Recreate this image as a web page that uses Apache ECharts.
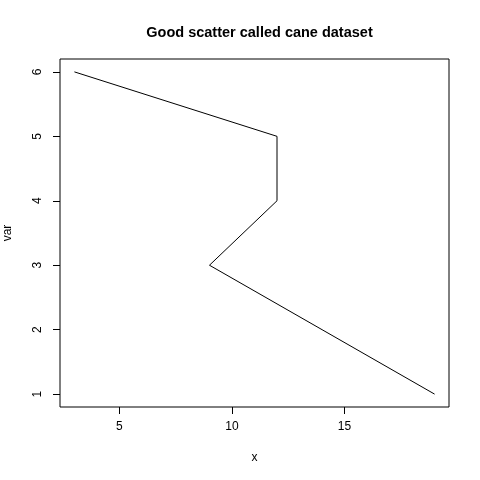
<!DOCTYPE html>
<html><head><meta charset="utf-8">
<script src="https://cdn.jsdelivr.net/npm/echarts@6/dist/echarts.min.js"></script>
<style>html,body{margin:0;padding:0;background:#fff}#c{width:480px;height:480px}</style>
</head><body><div id="c"></div>
<script>
const xValues = [19, 14, 9, 12, 12, 3];
const varValues = [1, 2, 3, 4, 5, 6];
const xTicks = [5, 10, 15];
const yTicks = [1, 2, 3, 4, 5, 6];
const titleText = 'Good scatter called cane dataset';

const font = 'Liberation Sans, Arial, Helvetica, sans-serif';
const chart = echarts.init(document.getElementById('c'), null, {renderer: 'canvas'});
chart.setOption({
  animation: false,
  backgroundColor: '#fff',
  title: {
    text: titleText, left: 254.5, textAlign: 'center', top: 20,
    textStyle: {fontFamily: font, fontWeight: 'bold', fontSize: 14.5, color: '#000'}
  },
  grid: {left: 60, right: 31, top: 59, bottom: 73, containLabel: false, outerBoundsMode: 'none', show: true, borderColor: '#000', borderWidth: 1, backgroundColor: 'transparent'},
  xAxis: {
    type: 'value', min: 2.36, max: 19.64,
    name: 'x', nameLocation: 'middle', nameGap: 45,
    nameTextStyle: {fontFamily: font, fontSize: 12, color: '#000'},
    axisLine: {show: false},
    splitLine: {show: false},
    axisTick: {show: true, inside: false, length: 7, customValues: xTicks, lineStyle: {color: '#000'}},
    axisLabel: {customValues: xTicks, margin: 14, fontFamily: font, fontSize: 12, color: '#000'}
  },
  yAxis: {
    type: 'value', min: 0.8, max: 6.2,
    name: 'var', nameLocation: 'middle', nameGap: 46,
    nameTextStyle: {fontFamily: font, fontSize: 12, color: '#000'},
    axisLine: {show: false},
    splitLine: {show: false},
    axisTick: {show: true, inside: false, length: 7, customValues: yTicks, lineStyle: {color: '#000'}},
    axisLabel: {customValues: yTicks, rotate: 90, margin: 16, fontFamily: font, fontSize: 12, color: '#000'}
  },
  series: [{
    type: 'line',
    data: xValues.map((x, i) => [x, varValues[i]]),
    showSymbol: false, symbol: 'none',
    lineStyle: {color: '#000', width: 1},
    silent: true
  }]
});
</script></body></html>
